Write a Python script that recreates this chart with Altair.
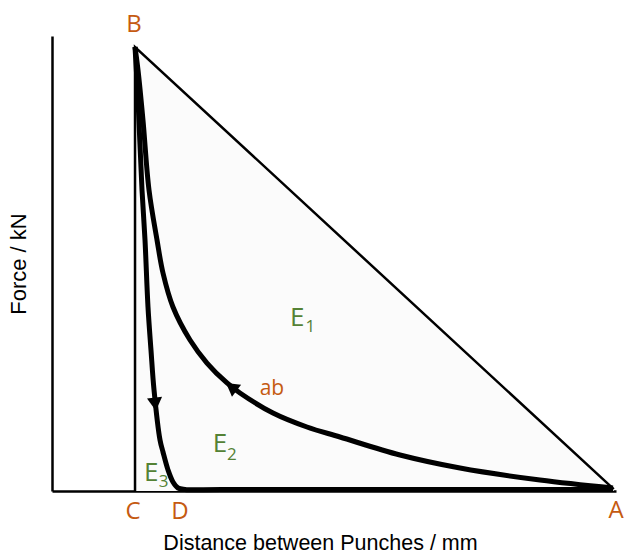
import altair as alt
import pandas as pd

# Compression curve (a -> b) (x: distance units, y: force units)
comp_x = [99.47, 86.52, 72.34, 61.70, 51.06, 45.21, 39.18, 33.33, 31.03, 27.48, 24.47, 21.45,
          19.68, 18.62, 17.20, 16.13, 15.25, 14.72]
comp_y = [0.66, 2.42, 5.05, 7.91, 11.87, 14.07, 17.14, 21.54, 23.74, 28.13, 33.19, 40.44,
          47.91, 55.16, 66.15, 81.54, 92.53, 97.58]

# Decompression curve (B -> D) and ejection along the base (D -> A)
dec_x = [14.72, 15.25, 15.96, 16.49, 17.02, 17.55, 18.09, 19.15, 19.68, 20.57, 21.45, 22.34, 23.58, 30.0, 99.47]
dec_y = [97.58, 85.93, 66.15, 55.16, 40.44, 30.99, 22.20, 11.21, 8.57, 4.62, 1.98, 0.66, 0.33, 0.33, 0.33]

# Triangle C - B - A
tri_x = [14.72, 14.72, 99.60]
tri_y = [0.0, 97.58, 0.40]

# Direction arrows on curves
arrow_x = [32.1, 18.26]
arrow_y = [22.6, 19.56]
arrow_angle = [307, 174]

# Point labels (orange)
pt_text = ["B", "A", "C", "D", "ab"]
pt_x = [14.54, 100.0, 14.36, 22.7, 39.0]
pt_y = [102.4, -4.4, -4.6, -4.6, 22.4]

# Energy labels (green) with subscripts
e_text = ["E", "E", "E"]
e_x = [43.5, 29.8, 17.6]
e_y = [38.0, 10.3, 4.0]
sub_text = ["1", "2", "3"]
sub_x = [45.8, 31.9, 19.8]
sub_y = [36.0, 7.9, 2.0]

ORANGE = "#C55A11"
GREEN = "#548235"

xs = alt.Scale(domain=[0, 100], nice=False, zero=False)
ys = alt.Scale(domain=[0, 100], nice=False, zero=False)

x_axis = alt.Axis(title="Distance between Punches / mm", ticks=False, labels=False, grid=False,
                  domainColor="black", domainWidth=2.5, titleFont="Liberation Sans",
                  titleFontSize=21.5, titleFontWeight="normal", titleColor="black",
                  titlePadding=41, titleX=268, titleAlign="center")
y_axis = alt.Axis(title="Force / kN", ticks=False, labels=False, grid=False,
                  domainColor="black", domainWidth=2.5, titleFont="Liberation Sans",
                  titleFontSize=22, titleFontWeight="normal", titleColor="black", titlePadding=22)

tri_df = pd.DataFrame({"x": tri_x, "y": tri_y, "o": list(range(len(tri_x)))})
area_df = pd.DataFrame({"x": [tri_x[1], tri_x[2]], "y": [tri_y[1], tri_y[2]]})
comp_df = pd.DataFrame({"x": comp_x, "y": comp_y, "o": list(range(len(comp_x)))})
dec_df = pd.DataFrame({"x": dec_x, "y": dec_y, "o": list(range(len(dec_x)))})
arrow_df = pd.DataFrame({"x": arrow_x, "y": arrow_y, "a": arrow_angle})
pt_df = pd.DataFrame({"x": pt_x, "y": pt_y, "t": pt_text})
e_df = pd.DataFrame({"x": e_x, "y": e_y, "t": e_text})
sub_df = pd.DataFrame({"x": sub_x, "y": sub_y, "t": sub_text})

fill = alt.Chart(area_df).mark_area(color="#fbfbfb", interpolate="linear").encode(
    x=alt.X("x:Q", scale=xs, axis=x_axis),
    y=alt.Y("y:Q", scale=ys, axis=y_axis),
    y2=alt.datum(0),
)

tri = alt.Chart(tri_df).mark_line(color="black", strokeWidth=2.5, strokeJoin="miter").encode(
    x=alt.X("x:Q", scale=xs),
    y=alt.Y("y:Q", scale=ys),
    order="o:Q",
)

comp = alt.Chart(comp_df).mark_line(color="black", strokeWidth=5, interpolate="catmull-rom").encode(
    x=alt.X("x:Q", scale=xs),
    y=alt.Y("y:Q", scale=ys),
    order="o:Q",
)

dec = alt.Chart(dec_df).mark_line(color="black", strokeWidth=5, interpolate="catmull-rom").encode(
    x=alt.X("x:Q", scale=xs),
    y=alt.Y("y:Q", scale=ys),
    order="o:Q",
)

arrows = alt.Chart(arrow_df).mark_point(shape="triangle", filled=True, color="black", size=230, opacity=1).encode(
    x=alt.X("x:Q", scale=xs),
    y=alt.Y("y:Q", scale=ys),
    angle=alt.Angle("a:Q", scale=None),
)

pts_big = alt.Chart(pt_df[pt_df.t != "ab"]).mark_text(font="Open Sans", fontSize=24, color=ORANGE,
                                                     align="center", baseline="middle").encode(
    x=alt.X("x:Q", scale=xs), y=alt.Y("y:Q", scale=ys), text="t:N")
pts_ab = alt.Chart(pt_df[pt_df.t == "ab"]).mark_text(font="Open Sans", fontSize=21, color=ORANGE,
                                                    align="center", baseline="middle").encode(
    x=alt.X("x:Q", scale=xs), y=alt.Y("y:Q", scale=ys), text="t:N")
e_lab = alt.Chart(e_df).mark_text(font="Open Sans", fontSize=26, color=GREEN,
                                  align="center", baseline="middle").encode(
    x=alt.X("x:Q", scale=xs), y=alt.Y("y:Q", scale=ys), text="t:N")
sub_lab = alt.Chart(sub_df).mark_text(font="Open Sans", fontSize=17, color=GREEN,
                                      align="center", baseline="middle").encode(
    x=alt.X("x:Q", scale=xs), y=alt.Y("y:Q", scale=ys), text="t:N")

chart = alt.layer(fill, tri, comp, dec, arrows, pts_big, pts_ab, e_lab, sub_lab).properties(
    width=564, height=455,
    autosize=alt.AutoSizeParams(type="none"),
    padding={"left": 52, "top": 36, "right": 9, "bottom": 65},
    background="white",
).configure_view(stroke=None)

chart.save("out.html", embed_options={"renderer": "svg", "actions": False})
